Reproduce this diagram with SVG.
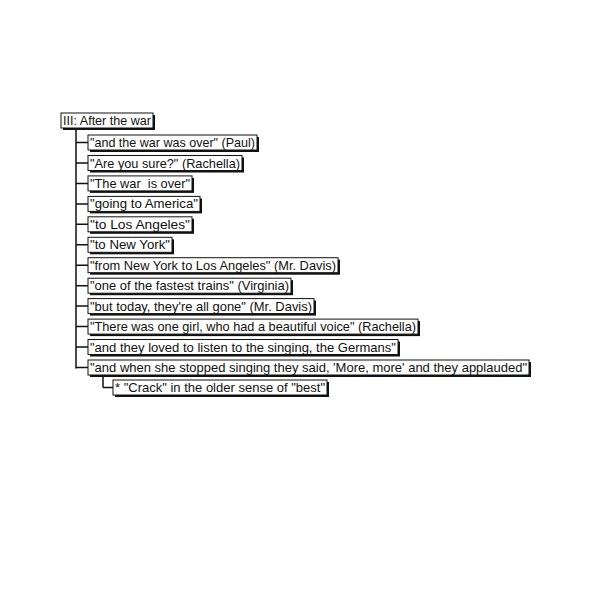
<svg xmlns="http://www.w3.org/2000/svg" width="600" height="600" viewBox="0 0 600 600">
<style>
.sh{fill:#111}
.bx{fill:#fff;stroke:#111;stroke-width:1}
.t{font-family:"Liberation Sans",Arial,sans-serif;font-size:13px;fill:#111}
.c{fill:none;stroke:#111;stroke-width:1.5}
</style>
<rect width="600" height="600" fill="#fff"/>
<g id="connectors">
<path class="c" d="M76,128 V368.5 M103,374 V387.5"/>
<path class="c" d="M76,142.5 H88 M76,163 H88 M76,183.4 H88 M76,203.9 H88 M76,224.3 H88 M76,244.8 H88 M76,265.2 H88 M76,285.7 H88 M76,306.1 H88 M76,326.6 H88 M76,347 H88 M76,367.5 H88 M103,387.5 H113"/>
</g>
<g id="root"><rect class="sh" x="63" y="115" width="92" height="15"/><rect class="bx" x="61" y="113" width="92" height="15"/><text class="t" x="63" y="125" textLength="88" lengthAdjust="spacingAndGlyphs">III: After the war</text></g>
<g id="n1"><rect class="sh" x="90" y="137" width="169" height="15"/><rect class="bx" x="88" y="135" width="169" height="15"/><text class="t" x="90" y="147" textLength="165" lengthAdjust="spacingAndGlyphs">"and the war was over" (Paul)</text></g>
<g id="n2"><rect class="sh" x="90" y="157.5" width="154" height="15"/><rect class="bx" x="88" y="155.5" width="154" height="15"/><text class="t" x="90" y="167.5" textLength="150" lengthAdjust="spacingAndGlyphs">"Are you sure?" (Rachella)</text></g>
<g id="n3"><rect class="sh" x="90" y="177.9" width="104" height="15"/><rect class="bx" x="88" y="175.9" width="104" height="15"/><text class="t" x="90" y="187.9" xml:space="preserve" textLength="100" lengthAdjust="spacingAndGlyphs">"The war  is over"</text></g>
<g id="n4"><rect class="sh" x="90" y="198.4" width="112" height="15"/><rect class="bx" x="88" y="196.4" width="112" height="15"/><text class="t" x="90" y="208.4" textLength="108" lengthAdjust="spacingAndGlyphs">"going to America"</text></g>
<g id="n5"><rect class="sh" x="90" y="218.8" width="104" height="15"/><rect class="bx" x="88" y="216.8" width="104" height="15"/><text class="t" x="90" y="228.8" textLength="100" lengthAdjust="spacingAndGlyphs">"to Los Angeles"</text></g>
<g id="n6"><rect class="sh" x="90" y="239.3" width="84" height="15"/><rect class="bx" x="88" y="237.3" width="84" height="15"/><text class="t" x="90" y="249.3" textLength="80" lengthAdjust="spacingAndGlyphs">"to New York"</text></g>
<g id="n7"><rect class="sh" x="90" y="259.7" width="250" height="15"/><rect class="bx" x="88" y="257.7" width="250" height="15"/><text class="t" x="90" y="269.7" textLength="246" lengthAdjust="spacingAndGlyphs">"from New York to Los Angeles" (Mr. Davis)</text></g>
<g id="n8"><rect class="sh" x="90" y="280.2" width="203" height="15"/><rect class="bx" x="88" y="278.2" width="203" height="15"/><text class="t" x="90" y="290.2" textLength="199" lengthAdjust="spacingAndGlyphs">"one of the fastest trains" (Virginia)</text></g>
<g id="n9"><rect class="sh" x="90" y="300.6" width="226" height="15"/><rect class="bx" x="88" y="298.6" width="226" height="15"/><text class="t" x="90" y="310.6" textLength="222" lengthAdjust="spacingAndGlyphs">"but today, they're all gone" (Mr. Davis)</text></g>
<g id="n10"><rect class="sh" x="90" y="321.1" width="330" height="15"/><rect class="bx" x="88" y="319.1" width="330" height="15"/><text class="t" x="90" y="331.1" textLength="326" lengthAdjust="spacingAndGlyphs">"There was one girl, who had a beautiful voice" (Rachella)</text></g>
<g id="n11"><rect class="sh" x="90" y="341.5" width="310" height="15"/><rect class="bx" x="88" y="339.5" width="310" height="15"/><text class="t" x="90" y="351.5" textLength="306" lengthAdjust="spacingAndGlyphs">"and they loved to listen to the singing, the Germans"</text></g>
<g id="n12"><rect class="sh" x="90" y="362" width="441" height="15"/><rect class="bx" x="88" y="360" width="441" height="15"/><text class="t" x="90" y="372" textLength="437" lengthAdjust="spacingAndGlyphs">"and when she stopped singing they said, 'More, more' and they applauded"</text></g>
<g id="n13"><rect class="sh" x="115" y="382" width="214" height="15"/><rect class="bx" x="113" y="380" width="214" height="15"/><text class="t" x="115" y="392" textLength="210" lengthAdjust="spacingAndGlyphs">* "Crack" in the older sense of "best"</text></g>
</svg>
